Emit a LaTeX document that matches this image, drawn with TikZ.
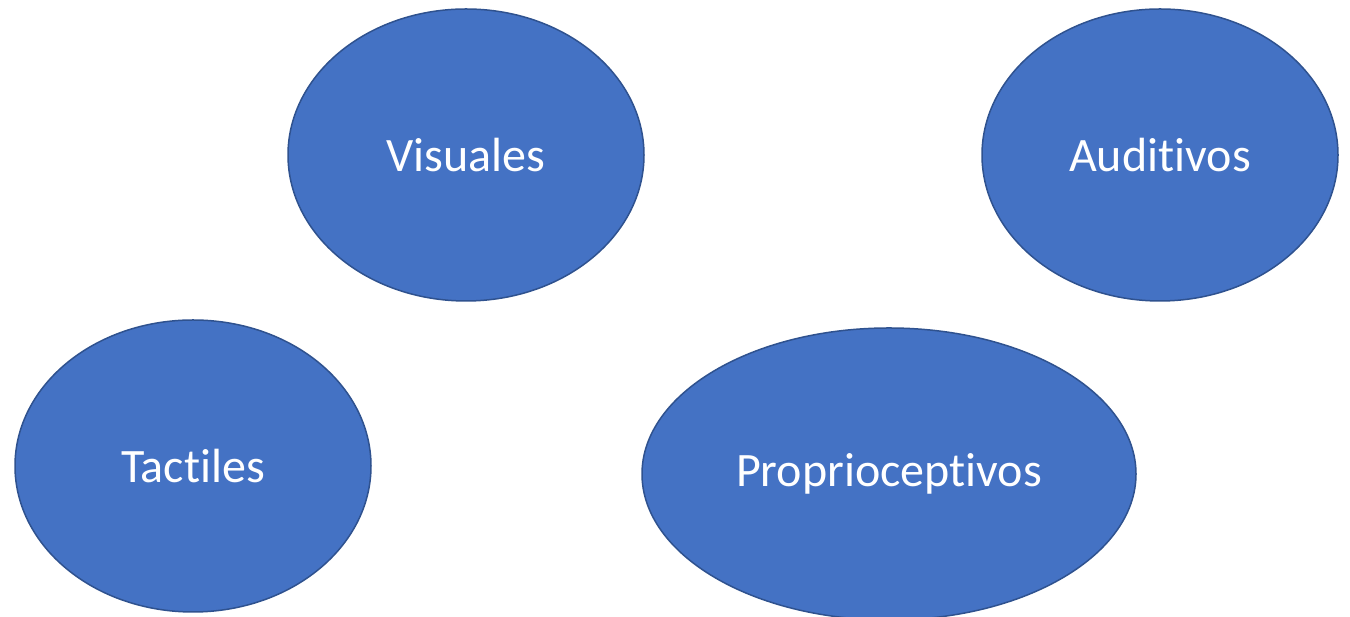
\documentclass[tikz,border=0pt]{standalone}
\usepackage{fontspec}
\setmainfont[Ligatures=NoCommon]{Carlito}
\usetikzlibrary{shapes.geometric}
\definecolor{sensefill}{HTML}{4472C4}
\definecolor{senseline}{HTML}{2F528F}
\tikzset{
  sense/.style={ellipse,draw=senseline,fill=sensefill,line width=1.5pt,
    text=white,inner sep=0pt,minimum width=356pt,minimum height=292pt,
    font=\fontsize{48}{52}\selectfont}
}
\begin{document}
\begin{tikzpicture}[x=1pt,y=1pt]
  \useasboundingbox (0,0) rectangle (1350,617);
  \node[sense] (vis) at (466,462) {Visuales};
  \node[sense] (aud) at (1160,462) {Auditivos};
  \node[sense] (tac) at (193,151) {Tactiles};
  \node[sense,minimum width=494pt] (pro) at (889,143) {Proprioceptivos};
\end{tikzpicture}
\end{document}
